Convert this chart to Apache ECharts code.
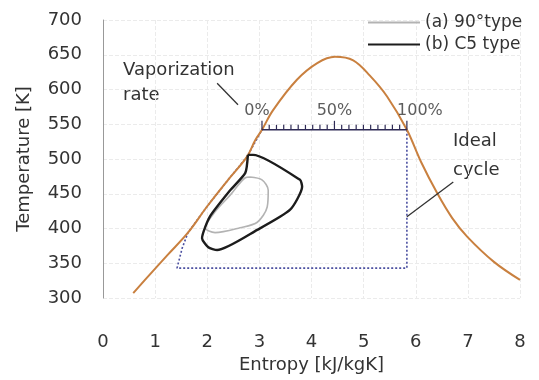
<!DOCTYPE html>
<html>
<head>
<meta charset="utf-8">
<script src="https://cdn.jsdelivr.net/npm/echarts@6/dist/echarts.min.js"></script>
<style>
  html, body { margin: 0; padding: 0; background: #ffffff; }
  #chart { width: 539px; height: 380px; }
</style>
</head>
<body>
<div id="chart"></div>
<script>
// Saturation dome: entropy [kJ/kgK] and temperature [K]
const domeS = [0.58, 0.84, 1.24, 1.63, 2.0, 2.4, 2.76, 2.92, 3.05, 3.26, 3.72, 4.11, 4.45, 4.8, 5.12, 5.45, 5.83, 6.1, 6.41, 6.7, 6.99, 7.5, 8.0];
const domeT = [307, 329, 362, 394, 432, 470, 503, 527, 542, 570, 614, 638, 647, 642, 620, 590, 542, 496, 451, 415, 388, 352, 326];

// Ideal cycle (dotted)
const idealS = [5.83, 5.83, 1.42, 1.52, 1.63, 2.0, 2.4, 2.76, 3.05];
const idealT = [542, 343, 343, 372, 394, 432, 470, 503, 542];

// Vaporization-rate scale on the evaporation line
const vapStartS = 3.05;
const vapEndS = 5.83;
const vapTemp = 542;
const vapTicks = [0, 5, 10, 15, 20, 25, 30, 35, 40, 45, 50, 55, 60, 65, 70, 75, 80, 85, 90, 95, 100];
const vapLabelRates = [0, 50, 100];
const vapLabelTexts = ['0%', '50%', '100%'];

// Measured cycle (a) 90°type
const cycleAS = [2.82, 3.05, 3.17, 3.15, 2.96, 2.63, 2.15, 1.96, 2.15, 2.44, 2.73, 2.82];
const cycleAT = [474, 470, 455, 431, 409, 401, 394, 401, 424, 448, 473, 474];

// Measured cycle (b) C5 type
const cycleBS = [2.78, 2.88, 3.78, 3.82, 3.59, 2.96, 2.19, 2.02, 1.90, 2.05, 2.44, 2.73, 2.78];
const cycleBT = [506, 506, 470, 460, 427, 398, 369, 373, 386, 417, 455, 480, 506];

// Leader lines for the annotations
const vapLeaderS = [2.19, 2.59];
const vapLeaderT = [609, 578];
const idealLeaderS = [6.72, 5.83];
const idealLeaderT = [467, 417];

// Axis ticks
const xMin = 0, xMax = 8, xStep = 1;
const yMin = 300, yMax = 700, yStep = 50;

const FONT = 'DejaVu Sans';
const zip = (a, b) => a.map((v, i) => [v, b[i]]);
const rateToS = r => vapStartS + (vapEndS - vapStartS) * r / 100;

const chart = echarts.init(document.getElementById('chart'), null, { renderer: 'canvas' });

const option = {
  animation: false,
  backgroundColor: '#ffffff',
  textStyle: { fontFamily: FONT },
  grid: { left: 103, right: 19, top: 20, bottom: 82, containLabel: false },
  legend: {
    data: ['(a) 90°type', '(b) C5 type'],
    orient: 'vertical',
    left: 362,
    top: 9,
    itemWidth: 52,
    itemHeight: 14,
    itemGap: 5,
    itemStyle: { opacity: 0 },
    textStyle: { fontSize: 17, color: '#333', fontFamily: FONT }
  },
  xAxis: {
    type: 'value',
    min: xMin, max: xMax, interval: xStep,
    name: 'Entropy [kJ/kgK]',
    nameLocation: 'middle',
    nameGap: 56,
    nameTextStyle: { fontSize: 18, color: '#333', fontFamily: FONT },
    axisLine: { show: false },
    axisTick: { show: false },
    axisLabel: { fontSize: 18, color: '#333', margin: 35, fontFamily: FONT },
    splitLine: { show: true, lineStyle: { color: '#ebebeb', type: 'dashed', width: 1 } }
  },
  yAxis: {
    type: 'value',
    min: yMin, max: yMax, interval: yStep,
    name: 'Temperature [K]',
    nameLocation: 'middle',
    nameGap: 70,
    nameRotate: 90,
    nameTextStyle: { fontSize: 18, color: '#333', fontFamily: FONT },
    axisLine: { show: true, lineStyle: { color: '#999', width: 1 } },
    axisTick: { show: false },
    axisLabel: { fontSize: 18, color: '#333', margin: 21, fontFamily: FONT },
    splitLine: { show: true, lineStyle: { color: '#ebebeb', type: 'dashed', width: 1 } }
  },
  series: [
    {
      name: 'Ideal cycle',
      type: 'line',
      symbol: 'none',
      data: zip(idealS, idealT),
      lineStyle: { color: '#4b4fa0', width: 1.6, type: [2, 2] },
      z: 2
    },
    {
      name: 'Saturation',
      type: 'line',
      symbol: 'none',
      smooth: 0.35,
      data: zip(domeS, domeT),
      lineStyle: { color: '#c9803f', width: 2 },
      z: 3
    },
    {
      name: 'Vaporization scale',
      type: 'line',
      symbol: 'none',
      data: [[vapStartS, vapTemp], [vapEndS, vapTemp]],
      lineStyle: { color: '#2e2a55', width: 1.6 },
      z: 4
    },
    {
      name: 'Vaporization ticks',
      type: 'custom',
      data: vapTicks.map(r => [rateToS(r), vapTemp, r]),
      encode: { x: 0, y: 1 },
      renderItem: (params, api) => {
        const p = api.coord([api.value(0), api.value(1)]);
        const major = api.value(2) % 50 === 0;
        return {
          type: 'line',
          shape: { x1: p[0], y1: p[1], x2: p[0], y2: p[1] - (major ? 9 : 5) },
          style: { stroke: '#2e2a55', lineWidth: 1.2 }
        };
      },
      z: 4
    },
    {
      name: 'Vaporization labels',
      type: 'scatter',
      symbolSize: 0,
      data: vapLabelRates.map((r, i) => ({
        value: [rateToS(r), vapTemp],
        label: { offset: [i === 0 ? -5 : (i === 2 ? 13 : 0), 0] }
      })),
      label: {
        show: true,
        position: 'top',
        distance: 11,
        fontSize: 16,
        color: '#333',
        fontFamily: FONT,
        formatter: p => vapLabelTexts[p.dataIndex]
      },
      silent: true,
      z: 5
    },
    {
      name: '(a) 90°type',
      type: 'line',
      symbol: 'none',
      smooth: 0.3,
      data: zip(cycleAS, cycleAT),
      lineStyle: { color: '#b3b3b3', width: 1.6 },
      itemStyle: { color: '#b3b3b3' },
      z: 6
    },
    {
      name: '(b) C5 type',
      type: 'line',
      symbol: 'none',
      smooth: 0.2,
      data: zip(cycleBS, cycleBT),
      lineStyle: { color: '#1c1c1c', width: 2.4 },
      itemStyle: { color: '#1c1c1c' },
      z: 7
    },
    {
      name: 'Leader vaporization',
      type: 'line',
      symbol: 'none',
      data: zip(vapLeaderS, vapLeaderT),
      lineStyle: { color: '#333', width: 1.3 },
      silent: true,
      z: 8
    },
    {
      name: 'Leader ideal',
      type: 'line',
      symbol: 'none',
      data: zip(idealLeaderS, idealLeaderT),
      lineStyle: { color: '#333', width: 1.3 },
      silent: true,
      z: 8
    }
  ],
  graphic: [
    {
      type: 'text',
      left: 123,
      top: 58,
      style: { text: 'Vaporization\nrate', font: '18px "DejaVu Sans"', lineHeight: 25, fill: '#333' }
    },
    {
      type: 'text',
      left: 453,
      top: 127,
      style: { text: 'Ideal\ncycle', font: '18px "DejaVu Sans"', lineHeight: 29, fill: '#333' }
    }
  ]
};

chart.setOption(option);
</script>
</body>
</html>
